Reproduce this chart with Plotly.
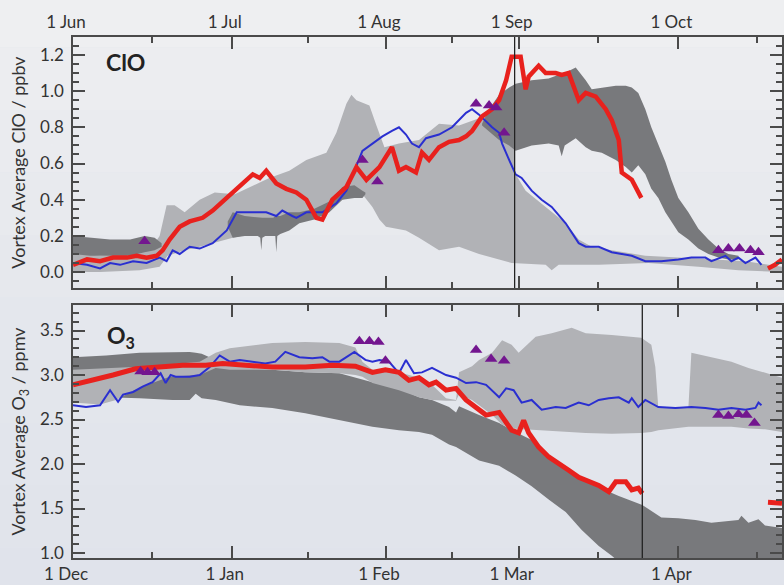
import plotly.graph_objects as go

# ---------------- ClO panel (x = days after 1 Jun) ----------------
clo_red_day = [0, 2.8, 5.4, 8.0, 10.8, 12.7, 14.7, 16.7, 17.9, 19.3, 21.3, 23.3, 25.9, 27.9, 30.7,
               32.7, 34.7, 35.9, 37.3, 38.6, 40.6, 42.6, 44.6, 46.6, 47.8, 48.6, 49.8, 51.8, 54.6, 56.6,
               58.6, 61.2, 63.7, 65.1, 66.5, 68.5, 69.7, 71.1, 73.1, 75.1, 77.1, 78.5, 79.7, 81.7, 83.7,
               85.1, 86.5, 87.6, 89.4, 90.4, 91.0, 93.0, 94.4, 96.4, 97.6, 99.0, 101.0, 102.4, 104.4, 106.4,
               107.6, 109.0, 109.6, 111.6, 113.5]
clo_red_val = [0.04, 0.07, 0.06, 0.08, 0.08, 0.09, 0.08, 0.09, 0.12, 0.18, 0.25, 0.28, 0.30, 0.34, 0.41,
               0.46, 0.51, 0.54, 0.52, 0.56, 0.49, 0.46, 0.44, 0.40, 0.34, 0.30, 0.29, 0.40, 0.47, 0.58,
               0.51, 0.58, 0.69, 0.56, 0.58, 0.55, 0.66, 0.62, 0.69, 0.72, 0.73, 0.75, 0.78, 0.86, 0.90,
               0.95, 1.06, 1.19, 1.19, 1.01, 1.08, 1.14, 1.10, 1.10, 1.09, 1.10, 0.95, 0.99, 0.97, 0.90,
               0.84, 0.73, 0.55, 0.51, 0.41]
clo_red2_day = [138.8, 140.2, 141.6]
clo_red2_val = [0.02, 0.04, 0.07]

clo_blue_day = [0, 2.8, 5.4, 7.4, 9.4, 12.0, 14.7, 17.3, 18.7, 19.9, 21.3, 23.3, 25.3, 27.9, 30.7,
                32.7, 34.7, 37.3, 38.6, 40.6, 41.8, 43.8, 44.6, 46.6, 49.8, 52.6, 54.6, 57.8, 59.8, 61.8,
                63.7, 65.1, 66.5, 67.7, 69.1, 70.5, 73.1, 75.7, 78.5, 79.7, 81.1, 82.5, 83.7, 85.1, 85.7,
                87.1, 88.4, 89.6, 91.6, 93.6, 95.6, 98.4, 101.0, 102.4, 105.0, 107.6, 111.6, 114.3, 117.5, 120.9,
                123.5, 126.3, 127.5, 130.3, 131.5, 132.9, 134.3, 136.3, 137.5]
clo_blue_val = [0.05, 0.04, 0.02, 0.05, 0.04, 0.06, 0.05, 0.08, 0.06, 0.12, 0.10, 0.14, 0.13, 0.16, 0.23,
                0.33, 0.33, 0.33, 0.33, 0.31, 0.34, 0.31, 0.30, 0.33, 0.33, 0.38, 0.45, 0.67, 0.71, 0.75,
                0.78, 0.80, 0.76, 0.71, 0.69, 0.74, 0.76, 0.80, 0.88, 0.90, 0.87, 0.83, 0.80, 0.77, 0.71,
                0.62, 0.54, 0.52, 0.45, 0.40, 0.36, 0.27, 0.16, 0.14, 0.14, 0.11, 0.09, 0.06, 0.06, 0.07,
                0.08, 0.08, 0.06, 0.09, 0.06, 0.08, 0.05, 0.08, 0.04]

# light grey range (upper and lower envelopes)
clo_light_top_day = [0, 5.4, 11.4, 15.3, 17.3, 18.7, 20.3, 22.3, 25.3, 28.3, 32.3, 36.3, 39.2, 43.2, 46.6,
                     50.6, 52.6, 54.6, 55.6, 56.6, 59.2, 60.6, 62.2, 65.1, 69.1, 73.1, 77.1, 81.1, 85.1, 88.0,
                     88.2, 90.4, 94.4, 98.4, 101.0, 103.6, 107.6, 114.3, 120.9, 127.5, 134.3, 141.6]
clo_light_top_val = [0.11, 0.09, 0.10, 0.12, 0.20, 0.37, 0.37, 0.33, 0.40, 0.44, 0.43, 0.48, 0.52, 0.56, 0.62,
                     0.66, 0.77, 0.93, 0.98, 0.95, 0.92, 0.81, 0.69, 0.71, 0.73, 0.82, 0.81, 0.85, 0.90, 0.91,
                     0.55, 0.45, 0.36, 0.27, 0.18, 0.14, 0.12, 0.09, 0.08, 0.07, 0.06, 0.03]
clo_light_bot_day = [0, 5.4, 13.3, 17.3, 18.9, 22.3, 25.3, 31.9, 37.3, 41.2, 45.2, 51.2, 54.6, 57.8, 59.8,
                     61.2, 62.5, 66.5, 69.1, 73.1, 77.1, 81.1, 85.1, 87.6, 94.4, 95.6, 97.0, 105.0, 114.9, 124.9,
                     132.9, 141.6]
clo_light_bot_val = [0.0, 0.0, 0.01, 0.03, 0.09, 0.12, 0.14, 0.19, 0.22, 0.27, 0.31, 0.37, 0.41, 0.43, 0.36,
                     0.29, 0.25, 0.23, 0.19, 0.12, 0.14, 0.10, 0.07, 0.05, 0.04, 0.01, 0.04, 0.04, 0.05, 0.03,
                     0.01, 0.0]

# dark grey range (visible pieces)
clo_dark_a_day = [0, 3.4, 7.4, 11.4, 14.3, 16.3, 17.7]
clo_dark_a_hi = [0.20, 0.19, 0.18, 0.18, 0.20, 0.19, 0.16]
clo_dark_a_lo = [0.10, 0.09, 0.09, 0.09, 0.11, 0.12, 0.14]
clo_dark_b_day = [30.9, 31.9, 34.3, 36.9, 37.4, 37.6, 37.8, 38.4, 40.0, 40.4, 40.6, 40.8, 41.4, 43.2, 45.2,
                  48.2, 51.2, 53.8, 56.2, 57.8, 58.4]
clo_dark_b_hi = [0.28, 0.33, 0.31, 0.30, 0.30, 0.30, 0.30, 0.30, 0.30, 0.31, 0.31, 0.31, 0.31, 0.33, 0.33,
                 0.35, 0.39, 0.47, 0.48, 0.45, 0.44]
clo_dark_b_lo = [0.25, 0.19, 0.20, 0.20, 0.19, 0.12, 0.19, 0.20, 0.20, 0.20, 0.11, 0.20, 0.21, 0.23, 0.27,
                 0.29, 0.33, 0.40, 0.41, 0.41, 0.43]
clo_dark_d_day = [81.7, 83.1, 85.1, 87.1, 88.4, 91.6, 95.0, 97.0, 97.6, 98.2, 100.4, 102.4, 103.6, 105.6, 108.4,
                  110.4, 111.6, 112.9, 114.3, 115.5, 116.9, 118.3, 119.5, 120.9, 122.9, 124.9, 126.9, 128.9, 130.9, 132.9]
clo_dark_d_hi = [0.82, 0.90, 0.98, 1.02, 1.04, 1.06, 1.07, 1.09, 1.09, 1.10, 1.13, 1.06, 1.01, 1.02, 1.03,
                 1.03, 1.02, 0.99, 0.90, 0.80, 0.70, 0.61, 0.51, 0.41, 0.33, 0.24, 0.18, 0.13, 0.10, 0.09]
clo_dark_d_lo = [0.81, 0.78, 0.73, 0.70, 0.67, 0.70, 0.71, 0.70, 0.64, 0.70, 0.74, 0.69, 0.67, 0.66, 0.62,
                 0.58, 0.55, 0.59, 0.54, 0.46, 0.41, 0.33, 0.28, 0.22, 0.18, 0.13, 0.10, 0.08, 0.07, 0.07]

clo_tri_day = [14.3, 57.8, 60.8, 80.5, 83.1, 84.5, 86.1, 128.9, 130.9, 133.1, 135.3, 136.9]
clo_tri_val = [0.17, 0.62, 0.50, 0.93, 0.92, 0.91, 0.77, 0.12, 0.13, 0.13, 0.12, 0.11]
clo_vline_day = 88.2

# ---------------- O3 panel (x = days after 1 Dec) ----------------
o3_red_day = [0, 4.0, 8.0, 12.5, 16.5, 21.9, 26.5, 29.9, 34.5, 39.8, 46.4, 51.8, 56.4, 59.8, 62.4,
              65.1, 67.1, 69.1, 71.1, 72.5, 74.5, 76.5, 78.5, 80.5, 82.5, 85.1, 86.5, 87.6, 89.0, 90.0,
              91.0, 93.0, 95.0, 97.0, 99.0, 101.0, 103.0, 105.0, 107.0, 108.4, 110.4, 111.6, 112.9, 113.7]
o3_red_val = [2.89, 2.94, 3.00, 3.07, 3.09, 3.11, 3.11, 3.13, 3.11, 3.09, 3.09, 3.11, 3.10, 3.03, 3.06,
              3.03, 2.94, 2.97, 2.89, 2.92, 2.83, 2.85, 2.72, 2.64, 2.55, 2.58, 2.47, 2.38, 2.35, 2.49,
              2.35, 2.19, 2.08, 2.01, 1.93, 1.85, 1.80, 1.76, 1.69, 1.80, 1.80, 1.71, 1.73, 1.67]
o3_red2_day = [138.8, 141.6]
o3_red2_val = [1.57, 1.56]

o3_blue_day = [0, 2.6, 5.4, 7.4, 9.0, 10.0, 12.0, 13.9, 15.9, 17.5, 18.5, 19.5, 20.5, 23.3, 25.3,
               27.3, 29.3, 31.3, 33.3, 35.9, 38.4, 40.4, 42.4, 45.2, 47.8, 49.8, 51.2, 53.2, 56.2, 58.4,
               59.8, 61.2, 63.1, 65.1, 66.5, 68.1, 69.7, 71.7, 74.5, 76.5, 78.5, 80.5, 82.5, 85.1, 86.5,
               88.0, 89.6, 91.6, 93.6, 96.4, 98.4, 101.0, 103.0, 105.0, 107.0, 109.0, 111.0, 111.6, 112.9, 114.3,
               116.9, 120.3, 123.5, 126.3, 128.9, 131.5, 134.3, 136.3, 136.9, 137.5]
o3_blue_val = [2.66, 2.64, 2.66, 2.83, 2.70, 2.78, 2.81, 2.87, 2.92, 3.02, 2.91, 3.00, 2.98, 2.98, 3.00,
               3.09, 3.22, 3.15, 3.17, 3.15, 3.13, 3.15, 3.26, 3.20, 3.19, 3.20, 3.15, 3.15, 3.26, 3.17,
               3.15, 3.17, 3.15, 3.02, 3.17, 3.02, 3.03, 3.08, 3.00, 2.97, 2.91, 2.92, 2.89, 2.75, 2.85,
               2.83, 2.69, 2.72, 2.61, 2.64, 2.63, 2.69, 2.66, 2.72, 2.74, 2.75, 2.69, 2.74, 2.64, 2.72,
               2.64, 2.63, 2.64, 2.63, 2.61, 2.63, 2.61, 2.63, 2.69, 2.66]

o3_dark_day = [0, 6.6, 13.3, 19.9, 23.3, 24.5, 25.7, 28.5, 33.3, 39.8, 46.4, 53.2, 59.8, 65.1, 69.1,
               71.7, 75.1, 76.5, 77.1, 81.1, 85.1, 88.4, 91.6, 95.0, 98.4, 101.6, 105.0, 107.6, 109.0, 113.7,
               117.5, 120.9, 124.3, 127.5, 132.9, 133.5, 134.9, 136.9, 138.2, 141.6]
o3_dark_hi = [3.20, 3.22, 3.25, 3.26, 3.26, 3.25, 3.24, 3.17, 3.08, 3.06, 3.03, 3.02, 2.92, 2.85, 2.75,
              2.72, 2.64, 2.58, 2.65, 2.55, 2.46, 2.36, 2.27, 2.08, 1.93, 1.82, 1.74, 1.67, 1.64, 1.54,
              1.40, 1.39, 1.37, 1.34, 1.37, 1.42, 1.34, 1.38, 1.31, 1.28]
o3_dark_lo = [2.76, 2.75, 2.74, 2.72, 2.72, 2.79, 2.74, 2.72, 2.66, 2.63, 2.57, 2.49, 2.42, 2.38, 2.36,
              2.33, 2.22, 2.19, 2.17, 2.04, 1.98, 1.87, 1.75, 1.60, 1.46, 1.26, 1.08, 0.97, 0.90, 0.90,
              0.90, 0.90, 0.90, 0.90, 0.90, 0.90, 0.90, 0.90, 0.90, 0.90]

o3_light_day = [0, 5.4, 8.6, 12.0, 15.3, 19.3, 25.3, 28.5, 31.3, 39.8, 46.4, 53.2, 56.4, 57.8, 59.8,
                65.1, 69.1, 71.7, 74.5, 76.5, 77.1, 79.7, 81.1, 83.7, 85.7, 87.6, 89.0, 92.4, 95.6, 99.6,
                102.4, 107.6, 113.5, 115.5, 116.3, 116.9, 122.9, 123.5, 128.3, 131.5, 134.9, 138.2, 141.6]
o3_light_hi = [3.06, 3.07, 3.08, 3.09, 3.10, 3.12, 3.15, 3.25, 3.30, 3.36, 3.37, 3.36, 3.31, 3.15, 3.06,
               3.03, 2.97, 2.89, 2.74, 2.72, 3.03, 3.10, 3.17, 3.25, 3.39, 3.34, 3.25, 3.43, 3.47, 3.53,
               3.47, 3.45, 3.42, 3.34, 3.09, 2.63, 2.63, 3.25, 3.19, 3.15, 3.08, 3.03, 2.97]
o3_light_lo = [2.69, 2.67, 2.72, 2.82, 2.90, 2.98, 3.00, 3.08, 3.06, 3.06, 3.03, 3.02, 3.00, 2.98, 2.91,
               2.83, 2.75, 2.72, 2.71, 2.71, 2.78, 2.72, 2.66, 2.55, 2.44, 2.40, 2.40, 2.38, 2.37, 2.36,
               2.35, 2.34, 2.35, 2.36, 2.37, 2.38, 2.42, 2.42, 2.42, 2.42, 2.40, 2.39, 2.36]

o3_tri_day = [13.5, 14.9, 16.3, 57.2, 59.2, 61.0, 62.4, 80.5, 83.5, 86.1, 128.9, 130.9, 132.9, 134.5, 136.1]
o3_tri_val = [3.04, 3.03, 3.03, 3.38, 3.38, 3.37, 3.16, 3.28, 3.18, 3.16, 2.55, 2.54, 2.56, 2.55, 2.46]
o3_vline_day = 113.7

# axis ticks
tick_days = [0, 31.7, 62.5, 89.0, 120.9]
minor_tick_days = [15.7, 47.0, 75.7, 104.8, 136.7]
clo_tick_text = ['1 Jun', '1 Jul', '1 Aug', '1 Sep', '1 Oct']
o3_tick_text = ['1 Dec', '1 Jan', '1 Feb', '1 Mar', '1 Apr']
clo_yticks = [0.0, 0.2, 0.4, 0.6, 0.8, 1.0, 1.2]
o3_yticks = [1.0, 1.5, 2.0, 2.5, 3.0, 3.5]

LIGHT = '#b1b2b6'
DARK = '#78797c'
RED = '#e8211d'
BLUE = '#2a2fd0'
PURPLE = '#73168f'
AXC = '#4a4a4a'
FONT = 'Lato'


def band(xh, yh, xl, yl, color, xa, ya):
    return go.Scatter(x=list(xh) + list(xl)[::-1], y=list(yh) + list(yl)[::-1],
                      fill='toself', fillcolor=color, line=dict(width=0), mode='lines',
                      hoverinfo='skip', showlegend=False, xaxis=xa, yaxis=ya)


def line(x, y, color, width, xa, ya):
    return go.Scatter(x=x, y=y, mode='lines', line=dict(color=color, width=width),
                      showlegend=False, xaxis=xa, yaxis=ya)


def tri(x, y, xa, ya):
    return go.Scatter(x=x, y=y, mode='markers',
                      marker=dict(symbol='triangle-up', size=11, color=PURPLE, line=dict(width=0)),
                      showlegend=False, xaxis=xa, yaxis=ya)


traces = [
    band(clo_light_top_day, clo_light_top_val, clo_light_bot_day, clo_light_bot_val, LIGHT, 'x', 'y'),
    band(clo_dark_a_day, clo_dark_a_hi, clo_dark_a_day, clo_dark_a_lo, DARK, 'x', 'y'),
    band(clo_dark_b_day, clo_dark_b_hi, clo_dark_b_day, clo_dark_b_lo, DARK, 'x', 'y'),
    band(clo_dark_d_day, clo_dark_d_hi, clo_dark_d_day, clo_dark_d_lo, DARK, 'x', 'y'),
    line(clo_blue_day, clo_blue_val, BLUE, 2, 'x', 'y'),
    line(clo_red_day, clo_red_val, RED, 4.5, 'x', 'y'),
    line(clo_red2_day, clo_red2_val, RED, 4.5, 'x', 'y'),
    tri(clo_tri_day, clo_tri_val, 'x', 'y'),
    band(o3_dark_day, o3_dark_hi, o3_dark_day, o3_dark_lo, DARK, 'x2', 'y2'),
    band(o3_light_day, o3_light_hi, o3_light_day, o3_light_lo, LIGHT, 'x2', 'y2'),
    line(o3_blue_day, o3_blue_val, BLUE, 2, 'x2', 'y2'),
    line(o3_red_day, o3_red_val, RED, 5, 'x2', 'y2'),
    line(o3_red2_day, o3_red2_val, RED, 5, 'x2', 'y2'),
    tri(o3_tri_day, o3_tri_val, 'x2', 'y2'),
]

fig = go.Figure(traces)

tickfont = dict(family=FONT, size=17, color='#333333')
common_x = dict(range=[0, 141.6], tickmode='array', tickvals=tick_days, ticks='inside', ticklen=12,
                tickwidth=1.5, tickcolor=AXC, showline=True, linecolor=AXC, linewidth=1.5,
                mirror='ticks', showgrid=False, zeroline=False, tickfont=tickfont,
                ticklabelshift=-7,
                minor=dict(tickmode='array', tickvals=minor_tick_days, ticks='inside', ticklen=6,
                           tickwidth=1.5, tickcolor=AXC, showgrid=False))
common_y = dict(tickmode='array', ticks='inside', ticklen=12, tickwidth=1.5, tickcolor=AXC,
                showline=True, linecolor=AXC, linewidth=1.5, mirror='ticks', showgrid=False,
                zeroline=False, tickfont=tickfont, tickformat='.1f', ticklabelstandoff=4)

fig.update_layout(
    width=784, height=585,
    margin=dict(l=73, r=0, t=37, b=27),
    paper_bgcolor='#e4e7ed',
    plot_bgcolor='rgba(0,0,0,0)',
    showlegend=False,
    font=dict(family=FONT, color='#333333'),
    xaxis=dict(common_x, anchor='y', side='top', domain=[0, 1], ticktext=clo_tick_text),
    yaxis=dict(common_y, anchor='x', domain=[0.5182, 1.0], range=[-0.088, 1.299], tickvals=clo_yticks,
               minor=dict(dtick=0.05, ticks='inside', ticklen=6, tickwidth=1.5, tickcolor=AXC),
               title=dict(text='Vortex Average ClO / ppbv', font=dict(family=FONT, size=18, color='#333333'),
                          standoff=10)),
    xaxis2=dict(common_x, anchor='y2', side='bottom', domain=[0, 1], ticktext=o3_tick_text),
    yaxis2=dict(common_y, anchor='x2', domain=[0.0, 0.4856], range=[0.944, 3.787], tickvals=o3_yticks,
                minor=dict(dtick=0.1, ticks='inside', ticklen=6, tickwidth=1.5, tickcolor=AXC),
                title=dict(text='Vortex Average O<sub>3</sub> / ppmv',
                           font=dict(family=FONT, size=18, color='#333333'), standoff=10)),
)

# soft photographic background gradient
shapes = []
stops = ['#eeeff1', '#ecedf0', '#eaebef', '#e8eaee', '#e6e8ed', '#e4e7ed', '#e3e6ec', '#e2e5ec', '#e1e4eb', '#e0e3eb']
n = len(stops)
for i, c in enumerate(stops):
    shapes.append(dict(type='rect', xref='paper', yref='paper', x0=-0.2, x1=1.2,
                       y0=1.1 - (i + 1) * 1.2 / n, y1=1.1 - i * 1.2 / n,
                       fillcolor=c, line=dict(width=0), layer='below'))
shapes.append(dict(type='line', xref='x', yref='y domain', x0=clo_vline_day, x1=clo_vline_day, y0=0, y1=1,
                   line=dict(color='#222222', width=1.3), layer='above'))
shapes.append(dict(type='line', xref='x2', yref='y2 domain', x0=o3_vline_day, x1=o3_vline_day, y0=0, y1=1,
                   line=dict(color='#222222', width=1.3), layer='above'))
fig.update_layout(shapes=shapes)

fig.add_annotation(text='<b>ClO</b>', xref='x domain', yref='y domain', x=0.044, y=0.90,
                   xanchor='left', yanchor='middle', showarrow=False,
                   font=dict(family=FONT, size=23, color='#222222'))
fig.add_annotation(text='<b>O<sub>3</sub></b>', xref='x2 domain', yref='y2 domain', x=0.045, y=0.875,
                   xanchor='left', yanchor='middle', showarrow=False,
                   font=dict(family=FONT, size=23, color='#222222'))

fig.write_html('out.html', config={'displayModeBar': False},
               post_script="document.body.style.margin='0px';")
